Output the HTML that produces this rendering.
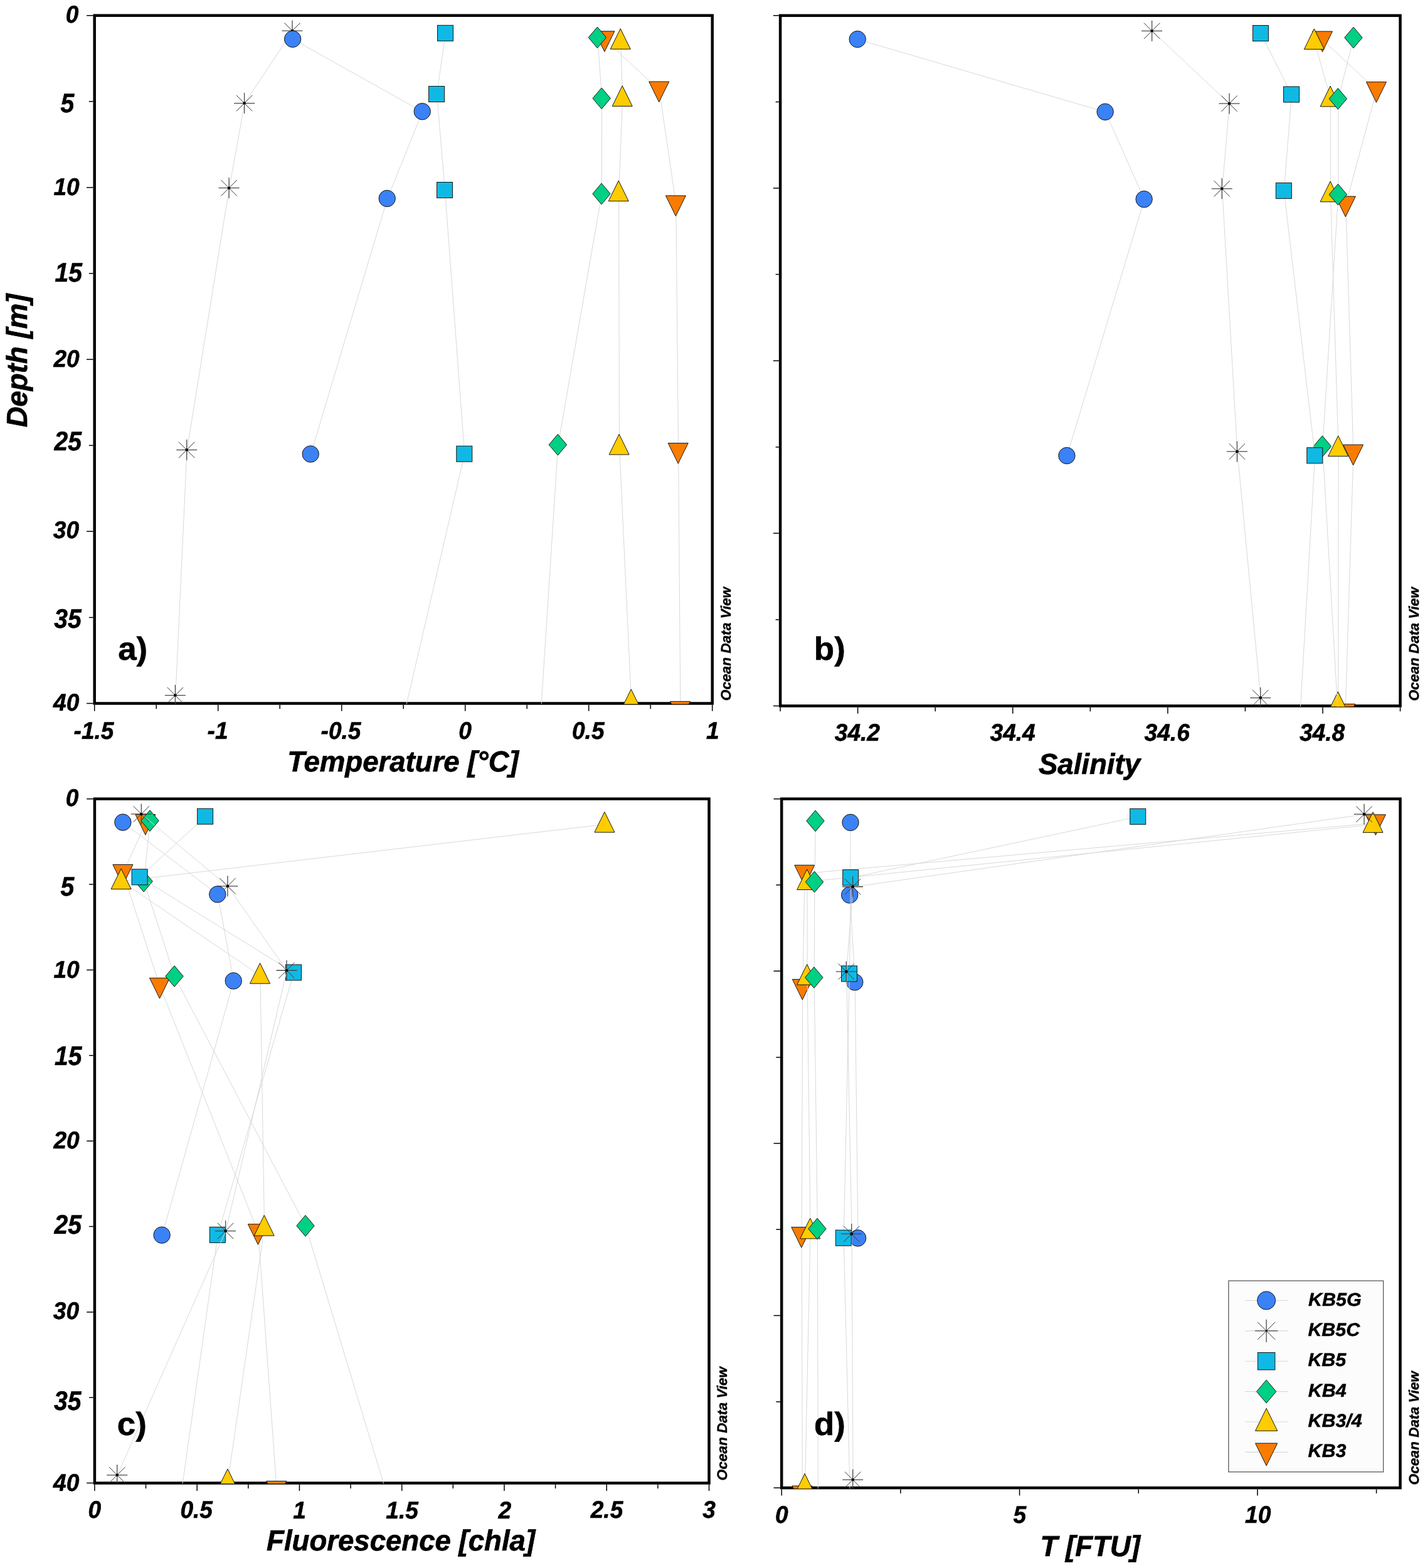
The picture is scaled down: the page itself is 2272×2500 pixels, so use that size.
<!DOCTYPE html>
<html lang="en">
<head>
<meta charset="utf-8">
<title>Depth profiles</title>
<style>html,body{margin:0;padding:0;background:#fff;}
body{width:2272px;height:2500px;overflow:hidden;}
svg{display:block;}
text{font-family:"Liberation Sans",sans-serif;font-weight:bold;fill:#000;stroke:#000;text-rendering:geometricPrecision;}
.tk{font-size:38.50px;font-style:italic;stroke-width:0.6px;}
.tko{font-size:42.92px;font-style:italic;stroke-width:0.6px;}
.tt{font-size:46.27px;font-style:italic;stroke-width:0.7px;}
.pl{font-size:51.50px;font-style:normal;stroke-width:0.6px;}
.odv{font-size:22.32px;font-style:italic;stroke-width:0.4px;}
.lg{font-size:29.32px;font-style:italic;stroke-width:0.5px;}
</style>
</head>
<body>
<svg width="2272" height="2500" viewBox="0 0 2272 2500">
<defs>
<clipPath id="clip-a"><rect x="150.7" y="24.7" width="986" height="1097.8"/></clipPath>
<clipPath id="clip-b"><rect x="1244.1" y="24.8" width="989.4" height="1101.7"/></clipPath>
<clipPath id="clip-c"><rect x="150.9" y="1273.7" width="980.6" height="1091.9"/></clipPath>
<clipPath id="clip-d"><rect x="1246.2" y="1273.7" width="987.3" height="1099.5"/></clipPath>
</defs>
<rect width="2272" height="2500" fill="#fff"/>
<g id="panel-a">
<rect x="150.7" y="24.7" width="985" height="1096.8" fill="none" stroke="#000" stroke-width="4.5"/>
<path d="M138.05 24.7H148.45M141.85 161.8H148.45M138.05 298.9H148.45M141.85 436H148.45M138.05 573.1H148.45M141.85 710.2H148.45M138.05 847.3H148.45M141.85 984.4H148.45M138.05 1121.5H148.45M150.7 1123.75V1133.85M347.7 1123.75V1133.85M544.7 1123.75V1133.85M741.7 1123.75V1133.85M938.7 1123.75V1133.85M1135.7 1123.75V1133.85M249.2 1123.75V1130.25M446.2 1123.75V1130.25M643.2 1123.75V1130.25M840.2 1123.75V1130.25M1037.2 1123.75V1130.25" stroke="#000" stroke-width="1.5" fill="none"/>
<g clip-path="url(#clip-a)">
<polyline points="964.3,63.11 1051.1,143.45 1077.8,325.25 1081.6,719.82 1084.9,1131.67" fill="none" stroke="#d8d8d8" stroke-width="1.0"/>
<path d="M947.9 49.81L979.9 49.81L963.9 82.41Z" fill="#f97c00" stroke="#161616" stroke-width="1.0"/>
<path d="M1034.7 130.15L1066.7 130.15L1050.7 162.75Z" fill="#f97c00" stroke="#161616" stroke-width="1.0"/>
<path d="M1061.4 311.95L1093.4 311.95L1077.4 344.55Z" fill="#f97c00" stroke="#161616" stroke-width="1.0"/>
<path d="M1065.2 706.52L1097.2 706.52L1081.2 739.12Z" fill="#f97c00" stroke="#161616" stroke-width="1.0"/>
<path d="M1068.5 1118.37L1100.5 1118.37L1084.5 1150.97Z" fill="#f97c00" stroke="#161616" stroke-width="1.0"/>
<polyline points="989.6,65.58 992.6,156.62 986.6,307.97 987.5,712.15 1006.6,1118.78" fill="none" stroke="#d8d8d8" stroke-width="1.0"/>
<path d="M989.2 45.68L1005.2 78.28L973.2 78.28Z" fill="#ffcc00" stroke="#161616" stroke-width="1.0"/>
<path d="M992.2 136.72L1008.2 169.32L976.2 169.32Z" fill="#ffcc00" stroke="#161616" stroke-width="1.0"/>
<path d="M986.2 288.07L1002.2 320.67L970.2 320.67Z" fill="#ffcc00" stroke="#161616" stroke-width="1.0"/>
<path d="M987.1 692.25L1003.1 724.85L971.1 724.85Z" fill="#ffcc00" stroke="#161616" stroke-width="1.0"/>
<path d="M1006.2 1098.88L1022.2 1131.48L990.2 1131.48Z" fill="#ffcc00" stroke="#161616" stroke-width="1.0"/>
<polyline points="952.8,60.1 959.6,157.16 959.4,309.35 889.8,709.4 860.62,1161.8" fill="none" stroke="#d8d8d8" stroke-width="1.0"/>
<path d="M952.4 43L966.6 59.8L952.4 76.6L938.2 59.8Z" fill="#00d084" stroke="#161616" stroke-width="1.0" stroke-linejoin="miter"/>
<path d="M959.2 140.06L973.4 156.86L959.2 173.66L945 156.86Z" fill="#00d084" stroke="#161616" stroke-width="1.0" stroke-linejoin="miter"/>
<path d="M959 292.25L973.2 309.05L959 325.85L944.8 309.05Z" fill="#00d084" stroke="#161616" stroke-width="1.0" stroke-linejoin="miter"/>
<path d="M889.4 692.3L903.6 709.1L889.4 725.9L875.2 709.1Z" fill="#00d084" stroke="#161616" stroke-width="1.0" stroke-linejoin="miter"/>
<polyline points="710.4,53.11 696.5,150.31 709.4,303.31 740.7,723.94 639.2,1161.8" fill="none" stroke="#d8d8d8" stroke-width="1.0"/>
<rect x="697.5" y="40.31" width="25" height="25" fill="#10b9e4" stroke="#161616" stroke-width="1.0"/>
<rect x="683.6" y="137.51" width="25" height="25" fill="#10b9e4" stroke="#161616" stroke-width="1.0"/>
<rect x="696.5" y="290.51" width="25" height="25" fill="#10b9e4" stroke="#161616" stroke-width="1.0"/>
<rect x="727.8" y="711.14" width="25" height="25" fill="#10b9e4" stroke="#161616" stroke-width="1.0"/>
<polyline points="466.4,49.4 390,164.84 365.5,300.02 298.1,717.63 279.8,1108.91" fill="none" stroke="#d8d8d8" stroke-width="1.0"/>
<path d="M449.5 49.1H482.5M466 32.6V65.6" fill="none" stroke="#484848" stroke-width="1.3"/><path d="M453.3 36.4L478.7 61.81M453.3 61.81L478.7 36.4" fill="none" stroke="#383838" stroke-width="1.0"/><circle cx="466" cy="49.1" r="2.3" fill="#000"/>
<path d="M373.1 164.54H406.1M389.6 148.04V181.04" fill="none" stroke="#484848" stroke-width="1.3"/><path d="M376.9 151.84L402.31 177.25M376.9 177.25L402.31 151.84" fill="none" stroke="#383838" stroke-width="1.0"/><circle cx="389.6" cy="164.54" r="2.3" fill="#000"/>
<path d="M348.6 299.72H381.6M365.1 283.22V316.22" fill="none" stroke="#484848" stroke-width="1.3"/><path d="M352.4 287.02L377.81 312.43M352.4 312.43L377.81 287.02" fill="none" stroke="#383838" stroke-width="1.0"/><circle cx="365.1" cy="299.72" r="2.3" fill="#000"/>
<path d="M281.2 717.33H314.2M297.7 700.83V733.83" fill="none" stroke="#484848" stroke-width="1.3"/><path d="M285 704.62L310.4 730.03M285 730.03L310.4 704.62" fill="none" stroke="#383838" stroke-width="1.0"/><circle cx="297.7" cy="717.33" r="2.3" fill="#000"/>
<path d="M262.9 1108.61H295.9M279.4 1092.11V1125.11" fill="none" stroke="#484848" stroke-width="1.3"/><path d="M266.69 1095.91L292.1 1121.32M266.69 1121.32L292.1 1095.91" fill="none" stroke="#383838" stroke-width="1.0"/><circle cx="279.4" cy="1108.61" r="2.3" fill="#000"/>
<polyline points="467,62.57 673.6,178 617.6,316.75 495.6,724.21" fill="none" stroke="#d8d8d8" stroke-width="1.0"/>
<circle cx="466.6" cy="62.27" r="13.2" fill="#3b82f6" stroke="#161616" stroke-width="1.0"/>
<circle cx="673.2" cy="177.7" r="13.2" fill="#3b82f6" stroke="#161616" stroke-width="1.0"/>
<circle cx="617.2" cy="316.45" r="13.2" fill="#3b82f6" stroke="#161616" stroke-width="1.0"/>
<circle cx="495.2" cy="723.91" r="13.2" fill="#3b82f6" stroke="#161616" stroke-width="1.0"/>
</g>
</g>
<g id="panel-b">
<rect x="1244.1" y="24.8" width="988.4" height="1100.7" fill="none" stroke="#000" stroke-width="4.5"/>
<path d="M1232.85 24.8H1241.85M1236.65 162.39H1241.85M1232.85 299.98H1241.85M1236.65 437.56H1241.85M1232.85 575.15H1241.85M1236.65 712.74H1241.85M1232.85 850.33H1241.85M1236.65 987.91H1241.85M1232.85 1125.5H1241.85M1367.65 1127.75V1137.85M1614.75 1127.75V1137.85M1861.85 1127.75V1137.85M2108.95 1127.75V1137.85M1244.1 1127.75V1134.25M1491.2 1127.75V1134.25M1738.3 1127.75V1134.25M1985.4 1127.75V1134.25M2232.5 1127.75V1134.25" stroke="#000" stroke-width="1.5" fill="none"/>
<g clip-path="url(#clip-b)">
<polyline points="2108.8,63.35 2194.8,143.98 2145.7,326.42 2157.9,722.39 2145,1135.71" fill="none" stroke="#d8d8d8" stroke-width="1.0"/>
<path d="M2092.4 50.05L2124.4 50.05L2108.4 82.65Z" fill="#f97c00" stroke="#161616" stroke-width="1.0"/>
<path d="M2178.4 130.68L2210.4 130.68L2194.4 163.28Z" fill="#f97c00" stroke="#161616" stroke-width="1.0"/>
<path d="M2129.3 313.12L2161.3 313.12L2145.3 345.72Z" fill="#f97c00" stroke="#161616" stroke-width="1.0"/>
<path d="M2141.5 709.09L2173.5 709.09L2157.5 741.69Z" fill="#f97c00" stroke="#161616" stroke-width="1.0"/>
<path d="M2128.6 1122.41L2160.6 1122.41L2144.6 1155.01Z" fill="#f97c00" stroke="#161616" stroke-width="1.0"/>
<polyline points="2095.7,65.83 2121.4,157.18 2121.4,309.08 2134,714.69 2133.6,1122.77" fill="none" stroke="#d8d8d8" stroke-width="1.0"/>
<path d="M2095.3 45.93L2111.3 78.53L2079.3 78.53Z" fill="#ffcc00" stroke="#161616" stroke-width="1.0"/>
<path d="M2121 137.28L2137 169.88L2105 169.88Z" fill="#ffcc00" stroke="#161616" stroke-width="1.0"/>
<path d="M2121 289.18L2137 321.78L2105 321.78Z" fill="#ffcc00" stroke="#161616" stroke-width="1.0"/>
<path d="M2133.6 694.79L2149.6 727.39L2117.6 727.39Z" fill="#ffcc00" stroke="#161616" stroke-width="1.0"/>
<path d="M2133.2 1102.87L2149.2 1135.47L2117.2 1135.47Z" fill="#ffcc00" stroke="#161616" stroke-width="1.0"/>
<polyline points="2158.3,60.32 2133.7,157.73 2133.7,310.46 2108.7,711.94 2134.84,1165.8" fill="none" stroke="#d8d8d8" stroke-width="1.0"/>
<path d="M2157.9 43.22L2172.1 60.02L2157.9 76.82L2143.7 60.02Z" fill="#00d084" stroke="#161616" stroke-width="1.0" stroke-linejoin="miter"/>
<path d="M2133.3 140.63L2147.5 157.43L2133.3 174.23L2119.1 157.43Z" fill="#00d084" stroke="#161616" stroke-width="1.0" stroke-linejoin="miter"/>
<path d="M2133.3 293.36L2147.5 310.16L2133.3 326.96L2119.1 310.16Z" fill="#00d084" stroke="#161616" stroke-width="1.0" stroke-linejoin="miter"/>
<path d="M2108.3 694.84L2122.5 711.64L2108.3 728.44L2094.1 711.64Z" fill="#00d084" stroke="#161616" stroke-width="1.0" stroke-linejoin="miter"/>
<polyline points="2010.3,53.31 2059.4,150.85 2047.2,304.4 2096.6,726.52 2071.3,1165.8" fill="none" stroke="#d8d8d8" stroke-width="1.0"/>
<rect x="1997.4" y="40.51" width="25" height="25" fill="#10b9e4" stroke="#161616" stroke-width="1.0"/>
<rect x="2046.5" y="138.05" width="25" height="25" fill="#10b9e4" stroke="#161616" stroke-width="1.0"/>
<rect x="2034.3" y="291.6" width="25" height="25" fill="#10b9e4" stroke="#161616" stroke-width="1.0"/>
<rect x="2083.7" y="713.72" width="25" height="25" fill="#10b9e4" stroke="#161616" stroke-width="1.0"/>
<polyline points="1837,49.59 1960.4,165.44 1948.6,301.1 1972.8,720.19 2010.1,1112.87" fill="none" stroke="#d8d8d8" stroke-width="1.0"/>
<path d="M1820.1 49.29H1853.1M1836.6 32.79V65.79" fill="none" stroke="#484848" stroke-width="1.3"/><path d="M1823.89 36.59L1849.3 62M1823.89 62L1849.3 36.59" fill="none" stroke="#383838" stroke-width="1.0"/><circle cx="1836.6" cy="49.29" r="2.3" fill="#000"/>
<path d="M1943.5 165.14H1976.5M1960 148.64V181.64" fill="none" stroke="#484848" stroke-width="1.3"/><path d="M1947.3 152.43L1972.7 177.84M1947.3 177.84L1972.7 152.43" fill="none" stroke="#383838" stroke-width="1.0"/><circle cx="1960" cy="165.14" r="2.3" fill="#000"/>
<path d="M1931.7 300.8H1964.7M1948.2 284.3V317.3" fill="none" stroke="#484848" stroke-width="1.3"/><path d="M1935.5 288.1L1960.9 313.51M1935.5 313.51L1960.9 288.1" fill="none" stroke="#383838" stroke-width="1.0"/><circle cx="1948.2" cy="300.8" r="2.3" fill="#000"/>
<path d="M1955.9 719.89H1988.9M1972.4 703.39V736.39" fill="none" stroke="#484848" stroke-width="1.3"/><path d="M1959.7 707.19L1985.11 732.6M1959.7 732.6L1985.11 707.19" fill="none" stroke="#383838" stroke-width="1.0"/><circle cx="1972.4" cy="719.89" r="2.3" fill="#000"/>
<path d="M1993.2 1112.57H2026.2M2009.7 1096.07V1129.07" fill="none" stroke="#484848" stroke-width="1.3"/><path d="M1997 1099.86L2022.4 1125.27M1997 1125.27L2022.4 1099.86" fill="none" stroke="#383838" stroke-width="1.0"/><circle cx="2009.7" cy="1112.57" r="2.3" fill="#000"/>
<polyline points="1367.6,62.8 1762.5,178.65 1824.5,317.89 1701.3,726.8" fill="none" stroke="#d8d8d8" stroke-width="1.0"/>
<circle cx="1367.2" cy="62.5" r="13.2" fill="#3b82f6" stroke="#161616" stroke-width="1.0"/>
<circle cx="1762.1" cy="178.35" r="13.2" fill="#3b82f6" stroke="#161616" stroke-width="1.0"/>
<circle cx="1824.1" cy="317.59" r="13.2" fill="#3b82f6" stroke="#161616" stroke-width="1.0"/>
<circle cx="1700.9" cy="726.5" r="13.2" fill="#3b82f6" stroke="#161616" stroke-width="1.0"/>
</g>
</g>
<g id="panel-c">
<rect x="150.9" y="1273.7" width="979.6" height="1090.9" fill="none" stroke="#000" stroke-width="4.5"/>
<path d="M138.25 1273.7H148.65M142.05 1410.06H148.65M138.25 1546.42H148.65M142.05 1682.79H148.65M138.25 1819.15H148.65M142.05 1955.51H148.65M138.25 2091.88H148.65M142.05 2228.24H148.65M138.25 2364.6H148.65M150.9 2366.85V2376.95M314.17 2366.85V2376.95M477.43 2366.85V2376.95M640.7 2366.85V2376.95M803.97 2366.85V2376.95M967.23 2366.85V2376.95M1130.5 2366.85V2376.95M232.53 2366.85V2373.35M395.8 2366.85V2373.35M559.07 2366.85V2373.35M722.33 2366.85V2373.35M885.6 2366.85V2373.35M1048.87 2366.85V2373.35" stroke="#000" stroke-width="1.5" fill="none"/>
<g clip-path="url(#clip-c)">
<polyline points="232.3,1311.91 196.3,1391.82 254.9,1572.63 411.8,1965.09 441.2,2374.72" fill="none" stroke="#d8d8d8" stroke-width="1.0"/>
<path d="M215.9 1298.61L247.9 1298.61L231.9 1331.21Z" fill="#f97c00" stroke="#161616" stroke-width="1.0"/>
<path d="M179.9 1378.52L211.9 1378.52L195.9 1411.12Z" fill="#f97c00" stroke="#161616" stroke-width="1.0"/>
<path d="M238.5 1559.33L270.5 1559.33L254.5 1591.93Z" fill="#f97c00" stroke="#161616" stroke-width="1.0"/>
<path d="M395.4 1951.79L427.4 1951.79L411.4 1984.39Z" fill="#f97c00" stroke="#161616" stroke-width="1.0"/>
<path d="M424.8 2361.42L456.8 2361.42L440.8 2394.02Z" fill="#f97c00" stroke="#161616" stroke-width="1.0"/>
<polyline points="964.3,1314.36 193.5,1404.91 414.9,1555.45 421.6,1957.45 363.3,2361.9" fill="none" stroke="#d8d8d8" stroke-width="1.0"/>
<path d="M963.9 1294.46L979.9 1327.06L947.9 1327.06Z" fill="#ffcc00" stroke="#161616" stroke-width="1.0"/>
<path d="M193.1 1385.01L209.1 1417.61L177.1 1417.61Z" fill="#ffcc00" stroke="#161616" stroke-width="1.0"/>
<path d="M414.5 1535.55L430.5 1568.15L398.5 1568.15Z" fill="#ffcc00" stroke="#161616" stroke-width="1.0"/>
<path d="M421.2 1937.55L437.2 1970.15L405.2 1970.15Z" fill="#ffcc00" stroke="#161616" stroke-width="1.0"/>
<path d="M362.9 2342L378.9 2374.6L346.9 2374.6Z" fill="#ffcc00" stroke="#161616" stroke-width="1.0"/>
<polyline points="239.4,1308.91 229.5,1405.45 278.4,1556.82 487.4,1954.72 623.58,2404.9" fill="none" stroke="#d8d8d8" stroke-width="1.0"/>
<path d="M239 1291.81L253.2 1308.61L239 1325.41L224.8 1308.61Z" fill="#00d084" stroke="#161616" stroke-width="1.0" stroke-linejoin="miter"/>
<path d="M229.1 1388.35L243.3 1405.15L229.1 1421.95L214.9 1405.15Z" fill="#00d084" stroke="#161616" stroke-width="1.0" stroke-linejoin="miter"/>
<path d="M278 1539.72L292.2 1556.52L278 1573.32L263.8 1556.52Z" fill="#00d084" stroke="#161616" stroke-width="1.0" stroke-linejoin="miter"/>
<path d="M487 1937.62L501.2 1954.42L487 1971.22L472.8 1954.42Z" fill="#00d084" stroke="#161616" stroke-width="1.0" stroke-linejoin="miter"/>
<polyline points="327.5,1301.95 223,1398.64 468.4,1550.82 347.2,1969.18 285.55,2404.9" fill="none" stroke="#d8d8d8" stroke-width="1.0"/>
<rect x="314.6" y="1289.15" width="25" height="25" fill="#10b9e4" stroke="#161616" stroke-width="1.0"/>
<rect x="210.1" y="1385.84" width="25" height="25" fill="#10b9e4" stroke="#161616" stroke-width="1.0"/>
<rect x="455.5" y="1538.02" width="25" height="25" fill="#10b9e4" stroke="#161616" stroke-width="1.0"/>
<rect x="334.3" y="1956.38" width="25" height="25" fill="#10b9e4" stroke="#161616" stroke-width="1.0"/>
<polyline points="225.7,1298.27 363.3,1413.09 457.4,1547.54 360,1962.9 187.1,2352.08" fill="none" stroke="#d8d8d8" stroke-width="1.0"/>
<path d="M208.8 1297.97H241.8M225.3 1281.47V1314.47" fill="none" stroke="#484848" stroke-width="1.3"/><path d="M212.59 1285.27L238.01 1310.68M212.59 1310.68L238.01 1285.27" fill="none" stroke="#383838" stroke-width="1.0"/><circle cx="225.3" cy="1297.97" r="2.3" fill="#000"/>
<path d="M346.4 1412.79H379.4M362.9 1396.29V1429.29" fill="none" stroke="#484848" stroke-width="1.3"/><path d="M350.19 1400.08L375.6 1425.49M350.19 1425.49L375.6 1400.08" fill="none" stroke="#383838" stroke-width="1.0"/><circle cx="362.9" cy="1412.79" r="2.3" fill="#000"/>
<path d="M440.5 1547.24H473.5M457 1530.74V1563.74" fill="none" stroke="#484848" stroke-width="1.3"/><path d="M444.3 1534.54L469.7 1559.95M444.3 1559.95L469.7 1534.54" fill="none" stroke="#383838" stroke-width="1.0"/><circle cx="457" cy="1547.24" r="2.3" fill="#000"/>
<path d="M343.1 1962.6H376.1M359.6 1946.1V1979.1" fill="none" stroke="#484848" stroke-width="1.3"/><path d="M346.9 1949.9L372.31 1975.31M346.9 1975.31L372.31 1949.9" fill="none" stroke="#383838" stroke-width="1.0"/><circle cx="359.6" cy="1962.6" r="2.3" fill="#000"/>
<path d="M170.2 2351.78H203.2M186.7 2335.28V2368.28" fill="none" stroke="#484848" stroke-width="1.3"/><path d="M173.99 2339.08L199.41 2364.49M173.99 2364.49L199.41 2339.08" fill="none" stroke="#383838" stroke-width="1.0"/><circle cx="186.7" cy="2351.78" r="2.3" fill="#000"/>
<polyline points="196.3,1311.36 347.2,1426.18 372.6,1564.18 258.5,1969.45" fill="none" stroke="#d8d8d8" stroke-width="1.0"/>
<circle cx="195.9" cy="1311.06" r="13.2" fill="#3b82f6" stroke="#161616" stroke-width="1.0"/>
<circle cx="346.8" cy="1425.88" r="13.2" fill="#3b82f6" stroke="#161616" stroke-width="1.0"/>
<circle cx="372.2" cy="1563.88" r="13.2" fill="#3b82f6" stroke="#161616" stroke-width="1.0"/>
<circle cx="258.1" cy="1969.15" r="13.2" fill="#3b82f6" stroke="#161616" stroke-width="1.0"/>
</g>
</g>
<g id="panel-d">
<rect x="1246.2" y="1273.7" width="986.3" height="1098.5" fill="none" stroke="#000" stroke-width="4.5"/>
<path d="M1233.55 1273.7H1243.95M1237.35 1411.01H1243.95M1233.55 1548.33H1243.95M1237.35 1685.64H1243.95M1233.55 1822.95H1243.95M1237.35 1960.26H1243.95M1233.55 2097.57H1243.95M1237.35 2234.89H1243.95M1233.55 2372.2H1243.95M1246.2 2374.45V2384.55M1625.55 2374.45V2384.55M2004.89 2374.45V2384.55M1435.87 2374.45V2380.95M1815.22 2374.45V2380.95M2194.57 2374.45V2380.95" stroke="#000" stroke-width="1.5" fill="none"/>
<g clip-path="url(#clip-d)">
<polyline points="2193.7,1312.17 1283.2,1392.64 1279.7,1574.71 1278.2,1969.9 1279.4,2382.39" fill="none" stroke="#d8d8d8" stroke-width="1.0"/>
<path d="M2177.3 1298.87L2209.3 1298.87L2193.3 1331.47Z" fill="#f97c00" stroke="#161616" stroke-width="1.0"/>
<path d="M1266.8 1379.34L1298.8 1379.34L1282.8 1411.94Z" fill="#f97c00" stroke="#161616" stroke-width="1.0"/>
<path d="M1263.3 1561.41L1295.3 1561.41L1279.3 1594.01Z" fill="#f97c00" stroke="#161616" stroke-width="1.0"/>
<path d="M1261.8 1956.6L1293.8 1956.6L1277.8 1989.2Z" fill="#f97c00" stroke="#161616" stroke-width="1.0"/>
<path d="M1263 2369.09L1295 2369.09L1279 2401.69Z" fill="#f97c00" stroke="#161616" stroke-width="1.0"/>
<polyline points="2189.4,1314.64 1287.1,1405.82 1287.1,1557.41 1292.1,1962.21 1283.5,2369.48" fill="none" stroke="#d8d8d8" stroke-width="1.0"/>
<path d="M2189 1294.74L2205 1327.34L2173 1327.34Z" fill="#ffcc00" stroke="#161616" stroke-width="1.0"/>
<path d="M1286.7 1385.92L1302.7 1418.52L1270.7 1418.52Z" fill="#ffcc00" stroke="#161616" stroke-width="1.0"/>
<path d="M1286.7 1537.51L1302.7 1570.11L1270.7 1570.11Z" fill="#ffcc00" stroke="#161616" stroke-width="1.0"/>
<path d="M1291.7 1942.31L1307.7 1974.91L1275.7 1974.91Z" fill="#ffcc00" stroke="#161616" stroke-width="1.0"/>
<path d="M1283.1 2349.58L1299.1 2382.18L1267.1 2382.18Z" fill="#ffcc00" stroke="#161616" stroke-width="1.0"/>
<polyline points="1300.4,1309.15 1298.9,1406.37 1298.2,1558.79 1303.4,1959.46 1304.4,2412.5" fill="none" stroke="#d8d8d8" stroke-width="1.0"/>
<path d="M1300 1292.05L1314.2 1308.85L1300 1325.65L1285.8 1308.85Z" fill="#00d084" stroke="#161616" stroke-width="1.0" stroke-linejoin="miter"/>
<path d="M1298.5 1389.27L1312.7 1406.07L1298.5 1422.87L1284.3 1406.07Z" fill="#00d084" stroke="#161616" stroke-width="1.0" stroke-linejoin="miter"/>
<path d="M1297.8 1541.69L1312 1558.49L1297.8 1575.29L1283.6 1558.49Z" fill="#00d084" stroke="#161616" stroke-width="1.0" stroke-linejoin="miter"/>
<path d="M1303 1942.36L1317.2 1959.16L1303 1975.96L1288.8 1959.16Z" fill="#00d084" stroke="#161616" stroke-width="1.0" stroke-linejoin="miter"/>
<polyline points="1356.4,1311.62 1355.1,1427.24 1363.2,1566.2 1368,1974.29" fill="none" stroke="#d8d8d8" stroke-width="1.0"/>
<circle cx="1356" cy="1311.32" r="13.2" fill="#3b82f6" stroke="#161616" stroke-width="1.0"/>
<circle cx="1354.7" cy="1426.94" r="13.2" fill="#3b82f6" stroke="#161616" stroke-width="1.0"/>
<circle cx="1362.8" cy="1565.9" r="13.2" fill="#3b82f6" stroke="#161616" stroke-width="1.0"/>
<circle cx="1367.6" cy="1973.99" r="13.2" fill="#3b82f6" stroke="#161616" stroke-width="1.0"/>
<polyline points="1814.6,1302.15 1356.6,1399.5 1354.4,1552.74 1345.2,1974.02 1355.99,2412.5" fill="none" stroke="#d8d8d8" stroke-width="1.0"/>
<rect x="1801.7" y="1289.35" width="25" height="25" fill="#10b9e4" stroke="#161616" stroke-width="1.0"/>
<rect x="1343.7" y="1386.7" width="25" height="25" fill="#10b9e4" stroke="#161616" stroke-width="1.0"/>
<rect x="1341.5" y="1539.94" width="25" height="25" fill="#10b9e4" stroke="#161616" stroke-width="1.0"/>
<rect x="1332.3" y="1961.22" width="25" height="25" fill="#10b9e4" stroke="#161616" stroke-width="1.0"/>
<polyline points="2175.4,1298.44 1360,1414.06 1349.7,1549.45 1358.1,1967.7 1360.1,2359.59" fill="none" stroke="#d8d8d8" stroke-width="1.0"/>
<path d="M2158.5 1298.14H2191.5M2175 1281.64V1314.64" fill="none" stroke="#484848" stroke-width="1.3"/><path d="M2162.3 1285.44L2187.7 1310.85M2162.3 1310.85L2187.7 1285.44" fill="none" stroke="#383838" stroke-width="1.0"/><circle cx="2175" cy="1298.14" r="2.3" fill="#000"/>
<path d="M1343.1 1413.76H1376.1M1359.6 1397.26V1430.26" fill="none" stroke="#484848" stroke-width="1.3"/><path d="M1346.89 1401.05L1372.3 1426.46M1346.89 1426.46L1372.3 1401.05" fill="none" stroke="#383838" stroke-width="1.0"/><circle cx="1359.6" cy="1413.76" r="2.3" fill="#000"/>
<path d="M1332.8 1549.15H1365.8M1349.3 1532.65V1565.65" fill="none" stroke="#484848" stroke-width="1.3"/><path d="M1336.6 1536.44L1362 1561.85M1336.6 1561.85L1362 1536.44" fill="none" stroke="#383838" stroke-width="1.0"/><circle cx="1349.3" cy="1549.15" r="2.3" fill="#000"/>
<path d="M1341.2 1967.4H1374.2M1357.7 1950.9V1983.9" fill="none" stroke="#484848" stroke-width="1.3"/><path d="M1345 1954.7L1370.4 1980.11M1345 1980.11L1370.4 1954.7" fill="none" stroke="#383838" stroke-width="1.0"/><circle cx="1357.7" cy="1967.4" r="2.3" fill="#000"/>
<path d="M1343.2 2359.29H1376.2M1359.7 2342.79V2375.79" fill="none" stroke="#484848" stroke-width="1.3"/><path d="M1347 2346.59L1372.4 2372M1347 2372L1372.4 2346.59" fill="none" stroke="#383838" stroke-width="1.0"/><circle cx="1359.7" cy="2359.29" r="2.3" fill="#000"/>
</g>
</g>
<g id="legend">
<rect x="1958.8" y="2042.1" width="246.8" height="304.7" fill="#fcfcfc" stroke="#5a5a5a" stroke-width="1.3"/>
<path d="M1985 2073.5H2053.3" stroke="#d8d8d8" stroke-width="1.1" fill="none"/>
<circle cx="2019.1" cy="2073.5" r="14.52" fill="#3b82f6" stroke="#161616" stroke-width="1.0"/>
<path d="M1985 2121.88H2053.3" stroke="#d8d8d8" stroke-width="1.1" fill="none"/>
<path d="M2000.95 2121.88H2037.25M2019.1 2103.73V2140.03" fill="none" stroke="#484848" stroke-width="1.3"/><path d="M2005.12 2107.9L2033.08 2135.86M2005.12 2135.86L2033.08 2107.9" fill="none" stroke="#383838" stroke-width="1.0"/><circle cx="2019.1" cy="2121.88" r="1.4" fill="#000"/>
<path d="M1985 2170.26H2053.3" stroke="#d8d8d8" stroke-width="1.1" fill="none"/>
<rect x="2005.35" y="2156.51" width="27.5" height="27.5" fill="#10b9e4" stroke="#161616" stroke-width="1.0"/>
<path d="M1985 2218.64H2053.3" stroke="#d8d8d8" stroke-width="1.1" fill="none"/>
<path d="M2019.1 2200.16L2034.72 2218.64L2019.1 2237.12L2003.48 2218.64Z" fill="#00d084" stroke="#161616" stroke-width="1.0" stroke-linejoin="miter"/>
<path d="M1985 2267.02H2053.3" stroke="#d8d8d8" stroke-width="1.1" fill="none"/>
<path d="M2019.1 2245.46L2036.7 2281.32L2001.5 2281.32Z" fill="#ffcc00" stroke="#161616" stroke-width="1.0"/>
<path d="M1985 2315.4H2053.3" stroke="#d8d8d8" stroke-width="1.1" fill="none"/>
<path d="M2001.5 2301.1L2036.7 2301.1L2019.1 2336.96Z" fill="#f97c00" stroke="#161616" stroke-width="1.0"/>
</g>
<g id="labels">
<text class="tk" transform="translate(104.83 35.89) scale(0.963 1)">0</text>
<text class="tk" transform="translate(104.83 1284.89) scale(0.963 1)">0</text>
<text class="tko" transform="translate(96.49 179.35) scale(0.912 1)">5</text>
<text class="tko" transform="translate(96.49 1428.14) scale(0.912 1)">5</text>
<text class="tk" transform="translate(85.38 311.1) scale(0.963 1)">10</text>
<text class="tk" transform="translate(85.38 1558.67) scale(0.963 1)">10</text>
<text class="tko" transform="translate(87.38 448.6) scale(0.912 1)">15</text>
<text class="tko" transform="translate(87.1 1697.72) scale(0.912 1)">15</text>
<text class="tk" transform="translate(85.47 584.89) scale(0.963 1)">20</text>
<text class="tk" transform="translate(85.47 1831.04) scale(0.963 1)">20</text>
<text class="tko" transform="translate(86.61 718.23) scale(0.912 1)">25</text>
<text class="tko" transform="translate(86.61 1966.83) scale(0.912 1)">25</text>
<text class="tk" transform="translate(84.85 858.29) scale(0.963 1)">30</text>
<text class="tk" transform="translate(84.85 2103.01) scale(0.963 1)">30</text>
<text class="tko" transform="translate(86.21 1000.67) scale(0.912 1)">35</text>
<text class="tko" transform="translate(86.11 2247.7) scale(0.912 1)">35</text>
<text class="tk" transform="translate(85.06 1133.39) scale(0.963 1)">40</text>
<text class="tk" transform="translate(85.06 2376.69) scale(0.963 1)">40</text>
<text class="tk" transform="translate(117.54 1177.95) scale(0.963 1)">-1.5</text>
<text class="tk" transform="translate(330.6 1178.08) scale(0.963 1)">-1</text>
<text class="tk" transform="translate(511.54 1178.2) scale(0.963 1)">-0.5</text>
<text class="tk" transform="translate(731.27 1178.2) scale(0.963 1)">0</text>
<text class="tk" transform="translate(912 1178.2) scale(0.963 1)">0.5</text>
<text class="tk" transform="translate(1126.1 1178.08) scale(0.963 1)">1</text>
<text class="tk" transform="translate(1330.76 1181.29) scale(0.963 1)">34.2</text>
<text class="tk" transform="translate(1578.58 1181.29) scale(0.963 1)">34.4</text>
<text class="tk" transform="translate(1824.6 1181.29) scale(0.963 1)">34.6</text>
<text class="tk" transform="translate(2071.89 1181.29) scale(0.963 1)">34.8</text>
<text class="tk" transform="translate(140.53 2419.85) scale(0.963 1)">0</text>
<text class="tk" transform="translate(287.4 2419.79) scale(0.963 1)">0.5</text>
<text class="tk" transform="translate(467.24 2420.72) scale(0.963 1)">1</text>
<text class="tk" transform="translate(615.34 2420.6) scale(0.963 1)">1.5</text>
<text class="tk" transform="translate(794.55 2420.91) scale(0.963 1)">2</text>
<text class="tk" transform="translate(941.73 2419.79) scale(0.963 1)">2.5</text>
<text class="tk" transform="translate(1120.33 2419.79) scale(0.963 1)">3</text>
<text class="tk" transform="translate(1236.02 2428.49) scale(0.963 1)">0</text>
<text class="tk" transform="translate(1615.53 2428.3) scale(0.963 1)">5</text>
<text class="tk" transform="translate(1985.01 2428.49) scale(0.963 1)">10</text>
<text class="tt" transform="translate(458.35 1229.8) scale(0.985 1)">Temperature [°C]</text>
<text class="tt" transform="translate(1655.89 1234.4) scale(0.985 1)">Salinity</text>
<text class="tt" transform="translate(425.08 2471.9) scale(0.985 1)">Fluorescence [chla]</text>
<text class="tt" transform="translate(1658.49 2481.1) scale(0.985 1)">T [FTU]</text>
<text class="tt" transform="translate(43 681.31) rotate(-90) scale(0.985 1)">Depth [m]</text>
<text class="pl" transform="translate(188.2 1052.3) scale(1.027 1)">a)</text>
<text class="pl" transform="translate(1297.84 1052.3) scale(1.027 1)">b)</text>
<text class="pl" transform="translate(186.82 2288.1) scale(1.027 1)">c)</text>
<text class="pl" transform="translate(1297.94 2288.1) scale(1.027 1)">d)</text>
<text class="odv" transform="translate(1165.1 1117.15) rotate(-90) scale(1.013 1)">Ocean Data View</text>
<text class="odv" transform="translate(2262.45 1117.55) rotate(-90) scale(1.013 1)">Ocean Data View</text>
<text class="odv" transform="translate(1159.4 2360.4) rotate(-90) scale(1.013 1)">Ocean Data View</text>
<text class="odv" transform="translate(2262.45 2367.4) rotate(-90) scale(1.013 1)">Ocean Data View</text>
<text class="lg" transform="translate(2086.07 2081.7) scale(1.037 1)">KB5G</text>
<text class="lg" transform="translate(2085.39 2130.02) scale(1.037 1)">KB5C</text>
<text class="lg" transform="translate(2085.38 2178.34) scale(1.037 1)">KB5</text>
<text class="lg" transform="translate(2085.74 2226.66) scale(1.037 1)">KB4</text>
<text class="lg" transform="translate(2085.54 2274.98) scale(1.037 1)">KB3/4</text>
<text class="lg" transform="translate(2085.61 2323.3) scale(1.037 1)">KB3</text>
</g>
</svg>
</body>
</html>
